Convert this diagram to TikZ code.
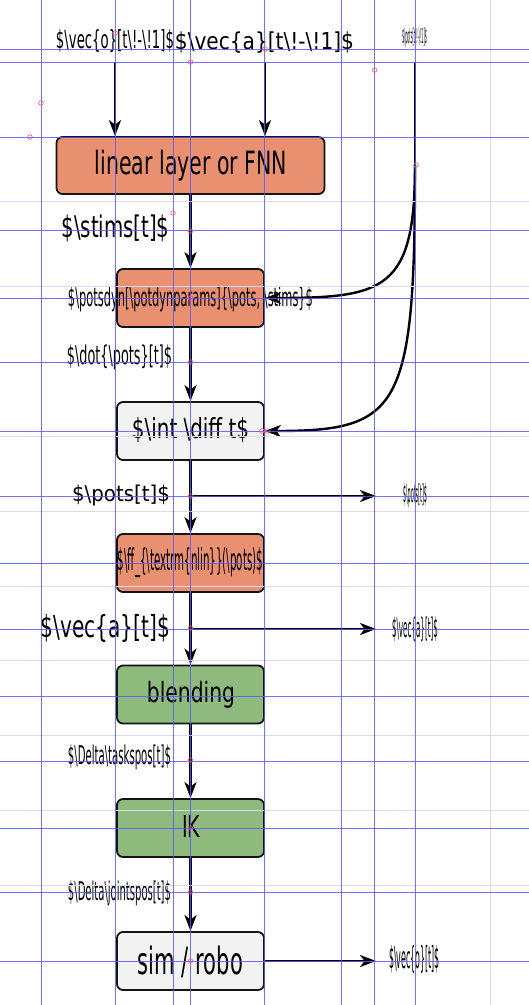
\documentclass[tikz,border=0pt]{standalone}
\usepackage{fontspec}
\newfontfamily\lab{DejaVu Sans}
\usetikzlibrary{arrows.meta}
\newcommand{\bs}{\textbackslash}
\newcommand{\fitt}[3]{\resizebox*{#1pt}{#2pt}{\lab #3}}
\definecolor{boxor}{HTML}{E99071}
\definecolor{boxgr}{HTML}{8FBA7D}
\definecolor{boxgy}{HTML}{F2F2F2}
\definecolor{guideblue}{RGB}{90,90,255}
\definecolor{guidelight}{RGB}{218,218,246}
\tikzset{
  box/.style={draw=black!92, line width=1.8pt, rounded corners=6pt, minimum width=147pt, minimum height=58pt, inner sep=0pt},
  fillor/.style={fill=boxor},
  fillgr/.style={fill=boxgr},
  fillgy/.style={fill=boxgy},
  conn/.style={line width=2.4pt, draw=black},
  arr/.style={conn, -{Stealth[length=16pt,width=12pt,inset=4.5pt]}},
  txt/.style={inner sep=0pt, outer sep=0pt, text=black},
  guide/.style={line width=0.9pt, draw=guideblue, opacity=0.85},
  lguide/.style={line width=0.9pt, draw=guidelight},
  gmark/.style={draw=red!65, line width=0.6pt}
}
\begin{document}
\begin{tikzpicture}[x=1pt,y=-1pt]
\fill[white] (0,0) rectangle (529,1005);
\useasboundingbox (0,0) rectangle (529,1005);

% boxes
\node[box,fillor,minimum width=268pt,minimum height=57pt] (fnn) at (190.5,165.5) {};
\node[box,fillor] (dyn) at (190.5,298) {};
\node[box,fillgy] (int) at (190.5,431) {};
\node[box,fillor] (nlin) at (190.5,563) {};
\node[box,fillgr] (blend) at (190.5,694.5) {};
\node[box,fillgr] (ik) at (190.5,828) {};
\node[box,fillgy] (sim) at (190.5,961) {};

% box texts
\node[txt] (tfnn) at (191,165.5) {\fitt{192}{31}{linear layer or FNN}};
\node[txt] (tdyn) at (190.5,299.5) {\fitt{245}{25}{\$\bs potsdyn[\bs potdynparams]\{\bs pots, \bs stims\}\$}};
\node[txt] (tint) at (190.5,430.5) {\fitt{117}{25}{\$\bs int\ \bs diff\ t\$}};
\node[txt] (tnlin) at (190.5,563) {\fitt{145}{30}{\$\bs ff\_\{\bs textrm\{nlin\}\}(\bs pots)\$}};
\node[txt] (tblend) at (191,694.5) {\fitt{88}{27}{blending}};
\node[txt] (tik) at (191,826) {\fitt{18}{22}{IK}};
\node[txt] (tsim) at (190.5,961.5) {\fitt{105}{32}{sim / robo}};

% input coordinates
\coordinate (oin) at (115,62);
\coordinate (ain) at (265,62);
\coordinate (pin) at (415,62);
\coordinate (split) at (415,165);
\coordinate (po) at (376,496);
\coordinate (ao) at (376,629);
\coordinate (oo) at (376,961);

% input labels
\node[txt] (lo) at (115,41.5) {\fitt{118}{23}{\$\bs vec\{o\}[t\bs!-\bs!1]\$}};
\node[txt] (la) at (264.5,42.5) {\fitt{179}{21.5}{\$\bs vec\{a\}[t\bs!-\bs!1]\$}};
\node[txt] (lp) at (414.5,38) {\fitt{25}{20}{\$\bs pots[t\bs!-\bs!1]\$}};

% side labels
\node[txt] (lstims) at (115.5,228.5) {\fitt{108}{27}{\$\bs stims[t]\$}};
\node[txt] (ldot) at (119.5,357.5) {\fitt{105}{25}{\$\bs dot\{\bs pots\}[t]\$}};
\node[txt] (lpots) at (121,495.5) {\fitt{98}{21}{\$\bs pots[t]\$}};
\node[txt] (la2) at (105.5,628) {\fitt{129}{28}{\$\bs vec\{a\}[t]\$}};
\node[txt] (ltask) at (119.5,757.5) {\fitt{103}{25}{\$\bs Delta\bs taskspos[t]\$}};
\node[txt] (ljoint) at (119.5,893) {\fitt{103}{25}{\$\bs Delta\bs jointspos[t]\$}};

% output labels
\node[txt] (rpots) at (415,496) {\fitt{24}{24}{\$\bs pots[t]\$}};
\node[txt] (ra) at (415,629.5) {\fitt{46}{25}{\$\bs vec\{a\}[t]\$}};
\node[txt] (ro) at (414.5,959) {\fitt{51}{28}{\$\bs vec\{o\}[t]\$}};

% connectors
\draw[arr] (oin) -- (oin |- fnn.north);
\draw[arr] (ain) -- (ain |- fnn.north);
\draw[conn] (pin) -- (split);
\draw[arr] (split) .. controls (415,290) and (385,298) .. (dyn.east);
\draw[arr] (split) .. controls (415,410) and (400,431) .. (int.east);
\draw[arr] (dyn.north |- fnn.south) -- (dyn.north);
\draw[arr] (dyn.south) -- (int.north);
\draw[arr] (int.south) -- (nlin.north);
\draw[arr] (int.south |- po) -- (po);
\draw[arr] (nlin.south) -- (blend.north);
\draw[arr] (nlin.south |- ao) -- (ao);
\draw[arr] (blend.south) -- (ik.north);
\draw[arr] (ik.south) -- (sim.north);
\draw[arr] (sim.east) -- (oo);

% light guides
\foreach \y in {201.5,286,436,511,586,660,735,810,885} \draw[lguide] (0,\y) -- (529,\y);
\draw[lguide] (490,0) -- (490,1005);
% guides
\foreach \x in {41,115,173,190.5,264.5,341,374.5,415} \draw[guide] (\x,0) -- (\x,1005);
\foreach \y in {49.5,62,137.5,230,298,362,431,496,563.5,629,696,761,828,892,961} \draw[guide] (0,\y) -- (529,\y);
% guide markers
\foreach \p in {(115,33),(190.5,62),(265,49),(374.5,70),(41,103),(30,137),(173,213),(190.5,231),(190.5,298),(190.5,362),(262,431),(267,431),(190.5,496),(190.5,628),(190.5,760),(190.5,828),(190.5,892),(190.5,961),(416,165)}
  \draw[gmark] \p circle (2.3pt);
\end{tikzpicture}
\end{document}
